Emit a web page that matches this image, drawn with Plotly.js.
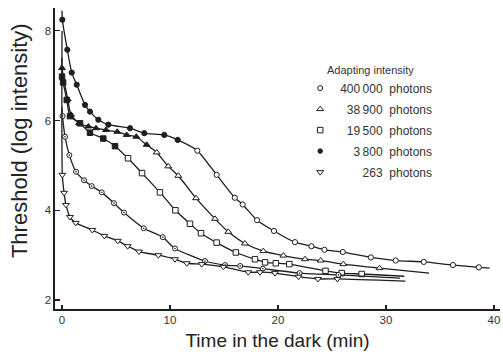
<!DOCTYPE html>
<html>
<head>
<meta charset="utf-8">
<script src="https://cdn.plot.ly/plotly-3.0.1.min.js"></script>
<style>html,body{margin:0;padding:0;background:#fff;}#chart{width:503px;height:358px;}</style>
</head>
<body>
<div id="chart"></div>
<script>
// ---- Data (time in dark, min ; threshold, log intensity) ----
const t400k = [0.03, 0.49, 0.9, 1.36, 2.13, 2.59, 3.36, 4.29, 6.3, 7.62, 9.47, 10.71, 12.53, 14.32, 16.0, 16.73, 18.06, 19.63, 21.57, 23.1, 24.3, 26.0, 28.6, 30.9, 33.5, 36.2, 38.6];
const v400k = [8.25, 7.58, 7.07, 6.80, 6.35, 6.20, 6.02, 5.91, 5.83, 5.72, 5.68, 5.57, 5.33, 4.79, 4.28, 4.13, 3.78, 3.54, 3.29, 3.20, 3.12, 3.07, 2.95, 2.88, 2.85, 2.78, 2.73];
const lead400k = [0.0, 8.45], tail400k = [39.6, 2.71];

const t38900 = [0.0, 0.53, 0.83, 1.57, 2.44, 3.15, 4.07, 5.12, 5.99, 6.88, 7.84, 8.77, 9.84, 10.77, 12.41, 14.17, 15.4, 16.94, 18.64, 20.5, 22.5, 23.95, 26.05, 29.4];
const v38900 = [7.17, 6.47, 6.13, 5.94, 5.87, 5.83, 5.79, 5.75, 5.68, 5.64, 5.46, 5.29, 4.98, 4.77, 4.27, 3.81, 3.52, 3.26, 3.09, 2.99, 2.91, 2.88, 2.80, 2.71];
const lead38900 = [0.0, 7.4], tail38900 = [34.0, 2.60];

const t19500 = [0.0, 0.1, 0.44, 0.74, 1.67, 2.59, 3.82, 4.91, 6.11, 7.41, 9.07, 10.5, 11.85, 12.87, 14.32, 16.1, 17.87, 18.8, 19.8, 21.05, 24.4, 25.9, 27.75];
const v19500 = [6.98, 6.85, 6.46, 6.10, 5.94, 5.73, 5.60, 5.43, 5.16, 4.83, 4.40, 4.00, 3.70, 3.49, 3.28, 3.06, 2.91, 2.84, 2.82, 2.80, 2.65, 2.60, 2.58];
const lead19500 = [0.0, 7.1], tail19500 = [31.7, 2.53];

const t3800 = [0.05, 0.28, 0.68, 1.3, 2.04, 2.75, 3.68, 4.81, 5.74, 7.57, 9.33, 10.46, 13.24, 15.1, 16.5, 18.6, 22.0, 25.6];
const v3800 = [6.1, 5.64, 5.23, 4.86, 4.67, 4.54, 4.40, 4.16, 3.95, 3.60, 3.40, 3.15, 2.87, 2.78, 2.76, 2.70, 2.60, 2.56];
const lead3800 = [0.0, 6.3], tail3800 = [31.3, 2.49];

const t263 = [0.03, 0.19, 0.37, 0.74, 1.27, 2.81, 3.92, 5.16, 6.08, 7.13, 8.92, 10.46, 11.55, 12.94, 14.94, 17.25, 18.33, 19.72, 21.9, 23.7, 25.5];
const v263 = [4.79, 4.39, 4.12, 3.85, 3.72, 3.56, 3.43, 3.32, 3.20, 3.08, 3.00, 2.91, 2.82, 2.80, 2.74, 2.62, 2.62, 2.60, 2.52, 2.47, 2.47];
const lead263 = [0.0, 8.0], tail263 = [31.8, 2.42];

const legendLabels = ["400\u2009000  photons", "\u200738\u2009900  photons", "\u200719\u2009500  photons", "\u2007\u20073\u2009800  photons", "\u2007\u2007\u2009\u2007263  photons"];
const legendTitle = "Adapting intensity";
const xTitle = "Time in the dark (min)";
const yTitle = "Threshold (log intensity)";
const xTicks = [0, 10, 20, 30, 40];
const yTicks = [2, 4, 6, 8];

// ---- Build traces ----
const INK = '#1e1e1e';
const series = [
  {t: t400k, v: v400k, lead: lead400k, tail: tail400k, sym: 'circle', size: 5.2, nFilled: 12},
  {t: t38900, v: v38900, lead: lead38900, tail: tail38900, sym: 'triangle-up', size: 6, nFilled: 11},
  {t: t19500, v: v19500, lead: lead19500, tail: tail19500, sym: 'square', size: 5.5, nFilled: 8},
  {t: t3800, v: v3800, lead: lead3800, tail: tail3800, sym: 'circle-dot', size: 5, nFilled: 0},
  {t: t263, v: v263, lead: lead263, tail: tail263, sym: 'triangle-down', size: 6, nFilled: 0}
];
const traces = [];
series.forEach(s => {
  traces.push({
    x: [s.lead[0]].concat(s.t, [s.tail[0]]),
    y: [s.lead[1]].concat(s.v, [s.tail[1]]),
    mode: 'lines', type: 'scatter', showlegend: false, hoverinfo: 'skip',
    line: {color: INK, width: 1.3, shape: 'spline', smoothing: 0.6}
  });
  traces.push({
    x: s.t, y: s.v, mode: 'markers', type: 'scatter', showlegend: false,
    marker: {
      symbol: s.sym, size: s.size,
      color: s.t.map((_, i) => i < s.nFilled ? INK : '#ffffff'),
      line: {color: INK, width: 1.0}
    }
  });
});
const legendSyms = ['circle', 'triangle-up', 'square', 'circle', 'triangle-down'];
const legendFill = ['#fff', '#fff', '#fff', INK, '#fff'];
const legendSize = [5, 6, 5.5, 4.5, 6];
legendLabels.forEach((lab, i) => {
  traces.push({
    x: [null], y: [null], mode: 'markers', type: 'scatter', name: lab,
    legendgroup: 'g' + i, showlegend: true,
    marker: {symbol: legendSyms[i], size: legendSize[i], color: legendFill[i], line: {color: INK, width: 1}}
  });
});

const FONT = 'Liberation Sans, Arial, sans-serif';
const tickFont = {family: FONT, size: 11.5, color: '#333'};
const layout = {
  width: 503, height: 358,
  margin: {l: 55, r: 3, t: 8, b: 49},
  paper_bgcolor: '#fff', plot_bgcolor: '#fff',
  showlegend: true,
  legend: {
    x: 0.551, xanchor: 'left', y: 0.782, yanchor: 'top',
    bgcolor: 'rgba(0,0,0,0)', font: {family: FONT, size: 12, color: '#333'},
    tracegroupgap: 2, itemwidth: 30
  },
  xaxis: {
    range: [-0.65, 40.56], tickvals: xTicks, ticks: 'inside', ticklen: 4, tickwidth: 1.2, tickcolor: INK,
    showline: true, linecolor: INK, linewidth: 1.6, showgrid: false, zeroline: false,
    tickfont: tickFont,
    title: {text: xTitle, font: {family: FONT, size: 19, color: '#222'}, standoff: 8}
  },
  yaxis: {
    range: [1.80, 8.51], tickvals: yTicks, ticks: 'inside', ticklen: 5, tickwidth: 1.2, tickcolor: INK,
    showline: true, linecolor: INK, linewidth: 1.6, showgrid: false, zeroline: false,
    tickfont: tickFont
  },
  annotations: [
    {
      text: legendTitle, xref: 'paper', yref: 'paper', x: 0.607, y: 0.794,
      xanchor: 'left', yanchor: 'middle', showarrow: false,
      font: {family: FONT, size: 11, color: '#333'}
    },
    {
      text: yTitle, xref: 'paper', yref: 'paper', x: -0.081, y: 0.561,
      xanchor: 'center', yanchor: 'middle', textangle: -90, showarrow: false,
      font: {family: FONT, size: 22, color: '#222'}
    }
  ]
};
Plotly.newPlot('chart', traces, layout, {staticPlot: true, displayModeBar: false});
</script>
</body>
</html>
